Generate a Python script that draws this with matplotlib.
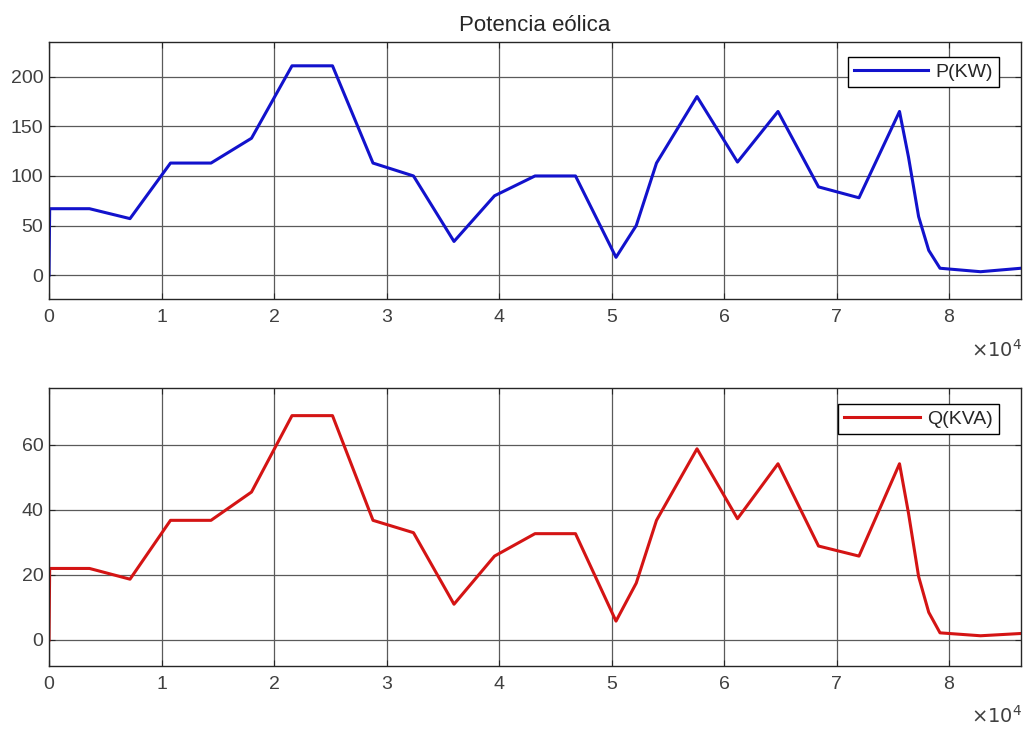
import matplotlib
matplotlib.use("Agg")
import matplotlib.pyplot as plt

plt.rcParams['font.family'] = ['Liberation Sans', 'DejaVu Sans']

# time (s)
t = [0, 60, 3600, 7200, 10800, 14400, 18000, 21600, 25200, 28800, 32400, 36000,
     39600, 43200, 46800, 50400, 52200, 54000, 57600, 61200, 64800, 68400,
     72000, 75600, 76400, 77300, 78200, 79200, 82800, 86400]
P_kw = [0, 67, 67, 57, 113, 113, 138, 211, 211, 113, 100, 34,
        80, 100, 100, 18, 50, 113, 180, 114, 165, 89,
        78, 165, 119, 59, 25, 7, 3.5, 7]
Q_kva = [0, 22, 22, 18.7, 36.8, 36.8, 45.5, 69, 69, 36.8, 33, 11,
         25.8, 32.7, 32.7, 5.8, 17.5, 36.8, 58.8, 37.3, 54.2, 28.9,
         25.8, 54.2, 39, 19.5, 8.5, 2.2, 1.3, 2.0]

xticks = [0, 10000, 20000, 30000, 40000, 50000, 60000, 70000, 80000]
xticklabels = ['0', '1', '2', '3', '4', '5', '6', '7', '8']
yticks_p = [0, 50, 100, 150, 200]
yticks_q = [0, 20, 40, 60]

W, H = 1029, 729
fig = plt.figure(figsize=(W / 100, H / 100), dpi=100)
fig.patch.set_facecolor('white')

def px_axes(l, t_, r, b):
    return fig.add_axes([l / W, 1 - b / H, (r - l) / W, (b - t_) / H])

ax1 = px_axes(49, 42, 1021, 299)
ax2 = px_axes(49, 388, 1021, 666)

txt_col = '#404040'
FS = 14

def style(ax, yticks, ylim):
    ax.set_xlim(0, 86400)
    ax.set_ylim(*ylim)
    ax.set_xticks(xticks)
    ax.set_xticklabels(xticklabels)
    ax.set_yticks(yticks)
    ax.grid(True, color='#5a5a5a', linewidth=0.9)
    ax.set_axisbelow(True)
    ax.tick_params(direction='in', length=4, width=0.8, top=True, right=True,
                   labelsize=FS, colors='#262626', labelcolor=txt_col)
    ax.tick_params(axis='x', pad=7)
    ax.tick_params(axis='y', pad=4)
    for s in ax.spines.values():
        s.set_color('#262626')
        s.set_linewidth(1.0)

def add_legend(ax, top_px, ax_top, ax_bot, hl):
    y = (ax_bot - top_px) / (ax_bot - ax_top)
    x = (999 - 49) / (1021 - 49)
    leg = ax.legend(loc='upper right', bbox_to_anchor=(x, y), fontsize=FS,
                    frameon=True, fancybox=False, edgecolor='black', framealpha=1,
                    handlelength=hl, handletextpad=0.35, borderaxespad=0.0,
                    borderpad=0.33)
    leg.get_frame().set_linewidth(1.0)
    for txt in leg.get_texts():
        txt.set_color('#262626')

ax1.plot(t, P_kw, color='#1212cc', linewidth=2.2, label='P(KW)')
style(ax1, yticks_p, (-24, 235))
ax1.set_title('Potencia eólica', fontsize=16, color='#262626', pad=8)
add_legend(ax1, 57, 42, 299, 3.8)

ax2.plot(t, Q_kva, color='#d41414', linewidth=2.2, label='Q(KVA)')
style(ax2, yticks_q, (-8, 77.5))
add_legend(ax2, 404, 388, 666, 3.9)

fig.text(1022 / W, 1 - 350 / H, r'$\times10^{4}$', ha='right', va='center',
         fontsize=FS, color=txt_col, math_fontfamily='dejavusans')
fig.text(1022 / W, 1 - 716 / H, r'$\times10^{4}$', ha='right', va='center',
         fontsize=FS, color=txt_col, math_fontfamily='dejavusans')

fig.savefig('out.png', dpi=100, facecolor='white')
